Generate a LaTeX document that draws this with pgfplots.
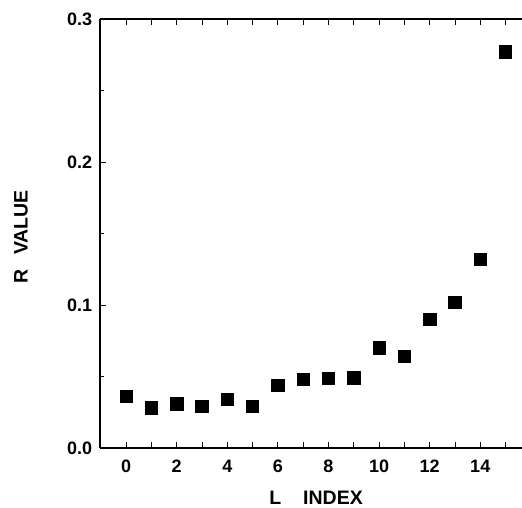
\documentclass[border=0pt]{standalone}
\usepackage{fontspec}
\setmainfont{Liberation Sans}
\usepackage{pgfplots}
\pgfplotsset{compat=1.18}

\begin{document}
\begin{tikzpicture}
\begin{axis}[
  scale only axis,
  width=422pt, height=429pt,
  xmin=-1.03, xmax=15.65,
  ymin=0, ymax=0.3,
  axis x line=box,
  axis y line=left,
  y axis line style={-},
  x axis line style={-},
  line width=1.2pt,
  tick align=inside,
  major tick length=6pt,
  minor tick length=4pt,
  xtick={0,...,15},
  xticklabels={0,,2,,4,,6,,8,,10,,12,,14,},
  ytick={0,0.1,0.2,0.3},
  yticklabels={0.0,0.1,0.2,0.3},
  minor ytick={0.05,0.15,0.25},
  tick style={line width=0.9pt, black},
  /pgf/number format/assume math mode=true,
  ticklabel style={font=\fontsize{18}{20}\selectfont\bfseries},
  xticklabel style={yshift=-8pt},
  yticklabel style={xshift=-4pt},
  xlabel={L\hspace{22pt}INDEX},
  ylabel={R\hspace{15pt}VALUE},
  every axis x label/.style={at={(axis description cs:0.512,-0.115)}, anchor=center,
    font=\fontsize{19.5}{21}\selectfont\bfseries},
  every axis y label/.style={at={(axis description cs:-0.187,0.492)}, rotate=90, anchor=center,
    font=\fontsize{19.5}{21}\selectfont\bfseries},
  clip=false,
]
\addplot[only marks, mark=square*, mark size=6.2pt, black, mark options={line width=0.6pt}]
  coordinates {
    (0,0.036)(1,0.028)(2,0.031)(3,0.029)(4,0.034)(5,0.029)
    (6,0.044)(7,0.048)(8,0.0486)(9,0.049)(10,0.070)(11,0.064)
    (12,0.090)(13,0.102)(14,0.132)(15,0.277)
  };
\end{axis}
\pgfresetboundingbox
\path[use as bounding box] ([shift={(-100pt,-60pt)}]current axis.south west) rectangle ([shift={(0pt,19pt)}]current axis.north east);
\end{tikzpicture}
\end{document}
